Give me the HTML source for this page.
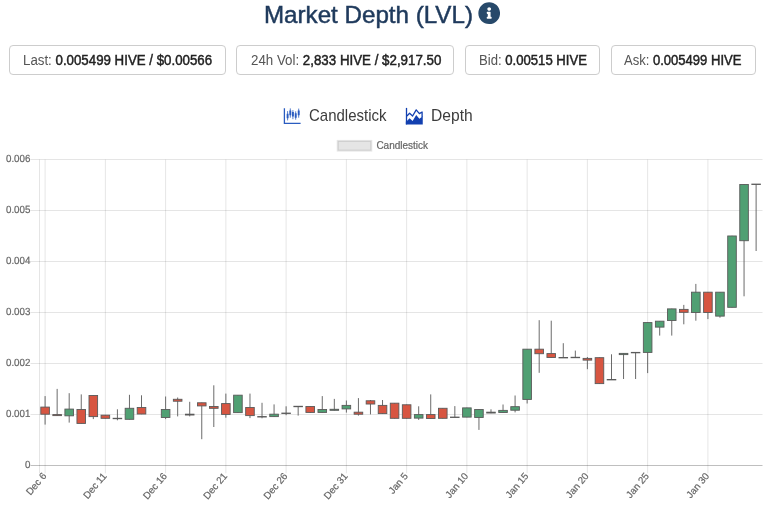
<!DOCTYPE html>
<html lang="en">
<head>
<meta charset="utf-8">
<title>Market Depth (LVL)</title>
<style>
html,body{margin:0;padding:0;background:#fff;}
body{width:768px;height:509px;position:relative;overflow:hidden;font-family:"Liberation Sans",Arial,sans-serif;}
.title{position:absolute;left:263.5px;top:-1.4px;font-size:24.3px;line-height:32px;color:#1f3a5c;white-space:nowrap;transform-origin:0 50%;transform:scaleX(0.994);-webkit-text-stroke:0.5px #1f3a5c;}
.info{position:absolute;left:478.0px;top:2.4px;width:22.4px;height:22.4px;}
.stat{position:absolute;top:45.3px;height:27.7px;box-sizing:content-box;border:1px solid #cdcdcd;border-radius:4px;background:#fff;}
.stat span{position:absolute;top:0;font-size:13.8px;line-height:29.4px;color:#555;white-space:nowrap;transform-origin:0 50%;}
.stat b{color:#222;font-weight:normal;-webkit-text-stroke:0.45px #222;}
.tab{position:absolute;top:104.5px;font-size:15.7px;line-height:22px;color:#3c3c3c;white-space:nowrap;transform-origin:0 50%;}
svg.chart{position:absolute;left:0;top:0;}
svg .tk{font-family:"Liberation Sans",Arial,sans-serif;font-size:9.8px;fill:#666;stroke:#666;stroke-width:0.2px;}
</style>
</head>
<body>
<div class="title">Market Depth (LVL)</div>
<svg class="info" viewBox="0 0 512 512"><path fill="#27496a" d="M256 8C119 8 8 119.100 8 256c0 137 111 248 248 248s248-111 248-248C504 119.100 393 8 256 8zm0 110c23.200 0 42 18.800 42 42s-18.800 42-42 42-42-18.800-42-42 18.800-42 42-42zm56 254c0 6.600-5.400 12-12 12h-88c-6.600 0-12-5.400-12-12v-24c0-6.600 5.400-12 12-12h12v-64h-12c-6.600 0-12-5.400-12-12v-24c0-6.600 5.400-12 12-12h64c6.600 0 12 5.400 12 12v100h12c6.600 0 12 5.400 12 12v24z"/></svg>

<div class="stat" style="left:8.600px;width:215.400px;"><span style="left:13.800px;transform:scaleX(0.963)">Last: <b>0.005499 HIVE / $0.00566</b></span></div>
<div class="stat" style="left:236.400px;width:215.400px;"><span style="left:13.200px;transform:scaleX(0.9655)">24h Vol: <b>2,833 HIVE / $2,917.50</b></span></div>
<div class="stat" style="left:464.800px;width:133.200px;"><span style="left:13.300px;transform:scaleX(0.951)">Bid: <b>0.00515 HIVE</b></span></div>
<div class="stat" style="left:610.600px;width:143.200px;"><span style="left:12.800px;transform:scaleX(0.945)">Ask: <b>0.005499 HIVE</b></span></div>

<div class="tab" style="left:309.000px;transform:scaleX(0.956) rotate(0.02deg)">Candlestick</div>
<div class="tab" style="left:430.900px;transform:scaleX(0.995) rotate(0.02deg)">Depth</div>
<svg style="position:absolute;left:280px;top:103.4px" width="25" height="25" viewBox="280 103 25 25">
<path d="M284.400 108.200V123.300H300.600" fill="none" stroke="#2a5cc0" stroke-width="1.300"/>
<g stroke="#2a5cc0" stroke-width="0.800" fill="none"><path d="M287.600 111.100V120.400M290.300 108.400V117.700M292.900 110.100V119.200M295.700 111.300V119.700M298.700 108.600V117.700"/></g>
<g stroke="#2a5cc0" stroke-width="1.900" fill="none"><path d="M287.600 113.800V118.200M290.300 110.400V115.300M292.900 112.100V116.500M295.700 113.300V117.700M298.700 110.400V115.300"/></g>
</svg>
<svg style="position:absolute;left:402px;top:102.8px" width="25" height="25" viewBox="402 103 25 25">
<path d="M406.500 107.900V124.400" fill="none" stroke="#1240b0" stroke-width="1.300"/>
<path d="M406.900 116.000L409.600 113.300L412.600 116.000L416.200 109.900L419.400 113.600L422.100 112.000V117" fill="none" stroke="#1240b0" stroke-width="1.300" stroke-linejoin="round"/>
<path d="M405.850 124.400V121.400L406.900 120.900L409.600 118.200L412.600 120.900L416.200 115.000L419.400 118.700L422.750 116.200V124.400Z" fill="#1240b0"/>
</svg>
<svg class="chart" width="768" height="509" viewBox="0 0 768 509">
<g stroke="#000" stroke-opacity="0.1" stroke-width="1" fill="none">
<line x1="39.5" y1="159.5" x2="39.5" y2="473.3"/>
<line x1="45.10" y1="159.5" x2="45.10" y2="473.3"/>
<line x1="105.36" y1="159.5" x2="105.36" y2="473.3"/>
<line x1="165.61" y1="159.5" x2="165.61" y2="473.3"/>
<line x1="225.87" y1="159.5" x2="225.87" y2="473.3"/>
<line x1="286.12" y1="159.5" x2="286.12" y2="473.3"/>
<line x1="346.38" y1="159.5" x2="346.38" y2="473.3"/>
<line x1="406.63" y1="159.5" x2="406.63" y2="473.3"/>
<line x1="466.89" y1="159.5" x2="466.89" y2="473.3"/>
<line x1="527.14" y1="159.5" x2="527.14" y2="473.3"/>
<line x1="587.39" y1="159.5" x2="587.39" y2="473.3"/>
<line x1="647.65" y1="159.5" x2="647.65" y2="473.3"/>
<line x1="707.91" y1="159.5" x2="707.91" y2="473.3"/>
<line x1="30.5" y1="159.5" x2="762.5" y2="159.5"/>
<line x1="30.5" y1="210.5" x2="762.5" y2="210.5"/>
<line x1="30.5" y1="261.5" x2="762.5" y2="261.5"/>
<line x1="30.5" y1="312.5" x2="762.5" y2="312.5"/>
<line x1="30.5" y1="363.5" x2="762.5" y2="363.5"/>
<line x1="30.5" y1="414.5" x2="762.5" y2="414.5"/>
</g>
<line x1="30.5" y1="465.5" x2="762.5" y2="465.5" stroke="#000" stroke-opacity="0.25" stroke-width="1"/>
<rect x="337.7" y="140.9" width="33.6" height="9.7" fill="#000" fill-opacity="0.1" stroke="#000" stroke-opacity="0.1" stroke-width="2"/>
<text x="376.4" y="148.6" class="tk" style="font-size:10.0px">Candlestick</text>
<text class="tk" text-anchor="end" style="font-size:10.4px" transform="translate(30.4,162.1) rotate(-0.03) scale(0.94,1)">0.006</text>
<text class="tk" text-anchor="end" style="font-size:10.4px" transform="translate(30.4,213.1) rotate(-0.03) scale(0.94,1)">0.005</text>
<text class="tk" text-anchor="end" style="font-size:10.4px" transform="translate(30.4,264.1) rotate(-0.03) scale(0.94,1)">0.004</text>
<text class="tk" text-anchor="end" style="font-size:10.4px" transform="translate(30.4,315.1) rotate(-0.03) scale(0.94,1)">0.003</text>
<text class="tk" text-anchor="end" style="font-size:10.4px" transform="translate(30.4,366.1) rotate(-0.03) scale(0.94,1)">0.002</text>
<text class="tk" text-anchor="end" style="font-size:10.4px" transform="translate(30.4,417.1) rotate(-0.03) scale(0.94,1)">0.001</text>
<text class="tk" text-anchor="end" style="font-size:10.4px" transform="translate(30.4,468.1) rotate(-0.03) scale(0.94,1)">0</text>
<text class="tk" text-anchor="end" transform="translate(46.90,476.2) rotate(-50)">Dec 6</text>
<text class="tk" text-anchor="end" transform="translate(107.16,476.2) rotate(-50)">Dec 11</text>
<text class="tk" text-anchor="end" transform="translate(167.41,476.2) rotate(-50)">Dec 16</text>
<text class="tk" text-anchor="end" transform="translate(227.67,476.2) rotate(-50)">Dec 21</text>
<text class="tk" text-anchor="end" transform="translate(287.92,476.2) rotate(-50)">Dec 26</text>
<text class="tk" text-anchor="end" transform="translate(348.18,476.2) rotate(-50)">Dec 31</text>
<text class="tk" text-anchor="end" transform="translate(408.43,476.2) rotate(-50)">Jan 5</text>
<text class="tk" text-anchor="end" transform="translate(468.69,476.2) rotate(-50)">Jan 10</text>
<text class="tk" text-anchor="end" transform="translate(528.94,476.2) rotate(-50)">Jan 15</text>
<text class="tk" text-anchor="end" transform="translate(589.19,476.2) rotate(-50)">Jan 20</text>
<text class="tk" text-anchor="end" transform="translate(649.45,476.2) rotate(-50)">Jan 25</text>
<text class="tk" text-anchor="end" transform="translate(709.71,476.2) rotate(-50)">Jan 30</text>
<g stroke="#5a5a5a" stroke-width="0.9">
<line x1="45.10" y1="396.1" x2="45.10" y2="424.6"/>
<rect x="40.80" y="407.08" width="8.6" height="7.14" fill="#d75541"/>
<line x1="57.15" y1="388.9" x2="57.15" y2="415.8"/>
<rect x="52.85" y="414.58" width="8.6" height="1.04" fill="#d75541"/>
<line x1="69.20" y1="393.2" x2="69.20" y2="422.6"/>
<rect x="64.90" y="409.08" width="8.6" height="6.74" fill="#50a073"/>
<line x1="81.25" y1="394.4" x2="81.25" y2="423.6"/>
<rect x="76.95" y="409.48" width="8.6" height="13.94" fill="#d75541"/>
<line x1="93.30" y1="395.3" x2="93.30" y2="419.1"/>
<rect x="89.00" y="395.48" width="8.6" height="21.14" fill="#d75541"/>
<line x1="105.36" y1="415.0" x2="105.36" y2="418.5"/>
<rect x="101.06" y="415.18" width="8.6" height="3.14" fill="#d75541"/>
<line x1="117.41" y1="409.3" x2="117.41" y2="420.3"/>
<rect x="113.11" y="418.27" width="8.6" height="0.45" fill="#5a5a5a"/>
<line x1="129.46" y1="394.8" x2="129.46" y2="419.5"/>
<rect x="125.16" y="408.28" width="8.6" height="11.04" fill="#50a073"/>
<line x1="141.51" y1="395.3" x2="141.51" y2="414.2"/>
<rect x="137.21" y="407.48" width="8.6" height="6.54" fill="#d75541"/>
<line x1="165.61" y1="396.5" x2="165.61" y2="419.1"/>
<rect x="161.31" y="409.48" width="8.6" height="8.04" fill="#50a073"/>
<line x1="177.66" y1="397.5" x2="177.66" y2="416.4"/>
<rect x="173.36" y="399.28" width="8.6" height="1.94" fill="#d75541"/>
<line x1="189.71" y1="401.8" x2="189.71" y2="416.4"/>
<rect x="185.41" y="414.18" width="8.6" height="0.84" fill="#d75541"/>
<line x1="201.76" y1="402.6" x2="201.76" y2="439.2"/>
<rect x="197.46" y="402.78" width="8.6" height="3.14" fill="#d75541"/>
<line x1="213.81" y1="385.3" x2="213.81" y2="427.0"/>
<rect x="209.51" y="406.48" width="8.6" height="1.84" fill="#d75541"/>
<line x1="225.87" y1="393.6" x2="225.87" y2="417.7"/>
<rect x="221.56" y="403.58" width="8.6" height="10.84" fill="#d75541"/>
<line x1="237.92" y1="395.0" x2="237.92" y2="412.8"/>
<rect x="233.62" y="395.18" width="8.6" height="17.44" fill="#50a073"/>
<line x1="249.97" y1="393.6" x2="249.97" y2="418.1"/>
<rect x="245.67" y="407.48" width="8.6" height="8.14" fill="#d75541"/>
<line x1="262.02" y1="402.8" x2="262.02" y2="418.3"/>
<rect x="257.72" y="416.57" width="8.6" height="0.45" fill="#5a5a5a"/>
<line x1="274.07" y1="404.4" x2="274.07" y2="416.8"/>
<rect x="269.77" y="414.18" width="8.6" height="2.44" fill="#50a073"/>
<line x1="286.12" y1="406.3" x2="286.12" y2="415.2"/>
<rect x="281.82" y="413.07" width="8.6" height="0.45" fill="#5a5a5a"/>
<line x1="298.17" y1="406.3" x2="298.17" y2="415.6"/>
<rect x="293.87" y="406.27" width="8.6" height="0.45" fill="#5a5a5a"/>
<line x1="310.22" y1="406.3" x2="310.22" y2="412.9"/>
<rect x="305.92" y="406.48" width="8.6" height="5.94" fill="#d75541"/>
<line x1="322.27" y1="396.1" x2="322.27" y2="412.6"/>
<rect x="317.97" y="409.48" width="8.6" height="2.94" fill="#50a073"/>
<line x1="334.32" y1="398.9" x2="334.32" y2="410.5"/>
<rect x="330.02" y="409.28" width="8.6" height="1.04" fill="#50a073"/>
<line x1="346.38" y1="400.5" x2="346.38" y2="412.6"/>
<rect x="342.07" y="405.38" width="8.6" height="3.54" fill="#50a073"/>
<line x1="358.43" y1="398.1" x2="358.43" y2="415.6"/>
<rect x="354.13" y="412.18" width="8.6" height="2.04" fill="#d75541"/>
<line x1="370.48" y1="400.0" x2="370.48" y2="414.4"/>
<rect x="366.18" y="400.78" width="8.6" height="3.24" fill="#d75541"/>
<line x1="382.53" y1="400.0" x2="382.53" y2="413.8"/>
<rect x="378.23" y="405.38" width="8.6" height="8.24" fill="#d75541"/>
<line x1="394.58" y1="403.0" x2="394.58" y2="418.5"/>
<rect x="390.28" y="403.18" width="8.6" height="15.14" fill="#d75541"/>
<line x1="406.63" y1="404.6" x2="406.63" y2="418.5"/>
<rect x="402.33" y="404.78" width="8.6" height="13.54" fill="#d75541"/>
<line x1="418.68" y1="406.3" x2="418.68" y2="419.9"/>
<rect x="414.38" y="414.58" width="8.6" height="3.54" fill="#50a073"/>
<line x1="430.73" y1="394.4" x2="430.73" y2="418.7"/>
<rect x="426.43" y="414.58" width="8.6" height="3.94" fill="#d75541"/>
<line x1="442.78" y1="408.1" x2="442.78" y2="418.5"/>
<rect x="438.48" y="408.28" width="8.6" height="10.04" fill="#d75541"/>
<line x1="454.83" y1="406.1" x2="454.83" y2="417.5"/>
<rect x="450.53" y="417.07" width="8.6" height="0.45" fill="#5a5a5a"/>
<line x1="466.89" y1="407.7" x2="466.89" y2="417.3"/>
<rect x="462.59" y="407.88" width="8.6" height="9.24" fill="#50a073"/>
<line x1="478.94" y1="409.3" x2="478.94" y2="429.9"/>
<rect x="474.64" y="409.48" width="8.6" height="8.04" fill="#50a073"/>
<line x1="490.99" y1="409.3" x2="490.99" y2="413.2"/>
<rect x="486.69" y="412.18" width="8.6" height="0.84" fill="#50a073"/>
<line x1="503.04" y1="404.5" x2="503.04" y2="412.7"/>
<rect x="498.74" y="410.38" width="8.6" height="2.14" fill="#50a073"/>
<line x1="515.09" y1="395.5" x2="515.09" y2="412.4"/>
<rect x="510.79" y="406.68" width="8.6" height="3.54" fill="#50a073"/>
<line x1="527.14" y1="349.0" x2="527.14" y2="403.5"/>
<rect x="522.84" y="349.18" width="8.6" height="50.24" fill="#50a073"/>
<line x1="539.19" y1="320.2" x2="539.19" y2="372.8"/>
<rect x="534.89" y="349.18" width="8.6" height="4.54" fill="#d75541"/>
<line x1="551.24" y1="320.7" x2="551.24" y2="357.7"/>
<rect x="546.94" y="353.58" width="8.6" height="3.94" fill="#d75541"/>
<line x1="563.29" y1="343.2" x2="563.29" y2="357.9"/>
<rect x="558.99" y="357.47" width="8.6" height="0.45" fill="#5a5a5a"/>
<line x1="575.34" y1="350.6" x2="575.34" y2="357.7"/>
<rect x="571.04" y="357.27" width="8.6" height="0.45" fill="#5a5a5a"/>
<line x1="587.39" y1="357.0" x2="587.39" y2="369.2"/>
<rect x="583.10" y="358.38" width="8.6" height="1.74" fill="#d75541"/>
<line x1="599.45" y1="357.5" x2="599.45" y2="383.8"/>
<rect x="595.15" y="357.68" width="8.6" height="25.94" fill="#d75541"/>
<line x1="611.50" y1="354.3" x2="611.50" y2="379.9"/>
<rect x="607.20" y="379.47" width="8.6" height="0.45" fill="#5a5a5a"/>
<line x1="623.55" y1="353.2" x2="623.55" y2="379.0"/>
<rect x="619.25" y="353.38" width="8.6" height="1.24" fill="#50a073"/>
<line x1="635.60" y1="352.4" x2="635.60" y2="379.0"/>
<rect x="631.30" y="352.38" width="8.6" height="0.45" fill="#5a5a5a"/>
<line x1="647.65" y1="322.4" x2="647.65" y2="373.1"/>
<rect x="643.35" y="322.58" width="8.6" height="29.84" fill="#50a073"/>
<line x1="659.70" y1="321.0" x2="659.70" y2="335.6"/>
<rect x="655.40" y="321.18" width="8.6" height="5.94" fill="#50a073"/>
<line x1="671.75" y1="308.7" x2="671.75" y2="335.6"/>
<rect x="667.45" y="308.88" width="8.6" height="11.64" fill="#50a073"/>
<line x1="683.80" y1="304.9" x2="683.80" y2="324.3"/>
<rect x="679.50" y="309.38" width="8.6" height="2.94" fill="#d75541"/>
<line x1="695.85" y1="283.9" x2="695.85" y2="320.7"/>
<rect x="691.55" y="292.18" width="8.6" height="20.34" fill="#50a073"/>
<line x1="707.91" y1="292.0" x2="707.91" y2="319.1"/>
<rect x="703.61" y="292.18" width="8.6" height="20.34" fill="#d75541"/>
<line x1="719.96" y1="292.0" x2="719.96" y2="317.7"/>
<rect x="715.66" y="292.18" width="8.6" height="23.94" fill="#50a073"/>
<line x1="732.01" y1="235.8" x2="732.01" y2="307.5"/>
<rect x="727.71" y="235.98" width="8.6" height="71.34" fill="#50a073"/>
<line x1="744.06" y1="184.3" x2="744.06" y2="296.3"/>
<rect x="739.76" y="184.48" width="8.6" height="56.24" fill="#50a073"/>
<line x1="756.11" y1="184.1" x2="756.11" y2="251.0"/>
<rect x="751.81" y="184.08" width="8.6" height="0.45" fill="#5a5a5a"/>
</g>
</svg>
</body>
</html>
